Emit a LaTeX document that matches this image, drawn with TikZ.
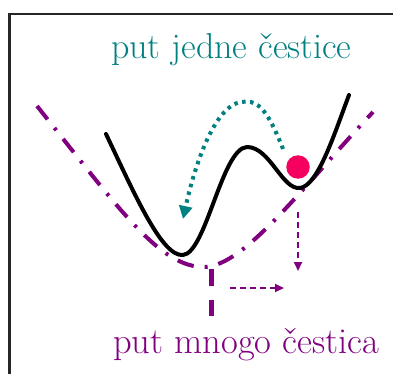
\documentclass[tikz,border=0pt]{standalone}
\usetikzlibrary{arrows.meta}
\definecolor{tealc}{RGB}{0,128,128}
\definecolor{purp}{RGB}{128,0,128}
\definecolor{dotred}{RGB}{245,0,95}
\begin{document}
\begin{tikzpicture}[x=1pt,y=-1pt,
  framestyle/.style={line width=2.5pt, black!85},
  wellcurve/.style={line width=4pt, black, line cap=round},
  manycurve/.style={line width=4pt, purp, dash pattern=on 17pt off 11pt on 3pt off 11pt},
  hopstyle/.style={line width=4pt, tealc, dash pattern=on 3.5pt off 4.5pt, -{Triangle[length=13pt,width=13pt]}},
  thinarrow/.style={line width=1.8pt, purp, dash pattern=on 6pt off 4pt, -{Triangle[length=9pt,width=8pt]}},
  thickdash/.style={line width=4.5pt, purp, dash pattern=on 17pt off 14pt},
  lbl/.style={inner sep=0pt, anchor=base west}
]
\useasboundingbox (0,0) rectangle (393,374);
\clip (0,0) rectangle (393,374);
\draw[framestyle] (9.5,14) rectangle (440,440);

% labels
\node[lbl, text=tealc, font=\fontsize{36}{40}\selectfont] (top) at (111,59) {put jedne čestice};
\node[lbl, text=purp, font=\fontsize{36.5}{40}\selectfont] (bottom) at (113,353) {put mnogo čestica};

% many-particle path (dash-dot)
\draw[manycurve] (37,106) .. controls (120,210) and (160,268) .. (205,267)
  .. controls (245,265) and (300,190) .. (373,112);

% single-particle potential
\draw[wellcurve] (106,134) .. controls (135,195) and (162,257) .. (183,255)
  .. controls (206,253) and (222,148) .. (247,147)
  .. controls (270,147) and (282,190) .. (300,188)
  .. controls (318,186) and (335,132) .. (349,95);

% particle
\node[circle, fill=dotred, minimum size=23.5pt, inner sep=0pt] (ball) at (298,167) {};

% hop path
\coordinate (hs) at (283,149);
\coordinate (ht) at (183,219);
\draw[hopstyle] (hs) .. controls (265,103) and (255,100) .. (241,102)
  .. controls (214,106) and (194,168) .. (ht);

% thick dashed vertical
\coordinate (va) at (211.5,269);
\coordinate (vb) at (211.5,316);
\draw[thickdash] (va) -- (vb);

% thin dashed arrows
\coordinate (ha) at (230,288);
\coordinate (hb) at (284,288);
\draw[thinarrow] (ha) -- (hb);
\coordinate (da) at (298,212);
\coordinate (db) at (298,271);
\draw[thinarrow] (da) -- (db);
\end{tikzpicture}
\end{document}
